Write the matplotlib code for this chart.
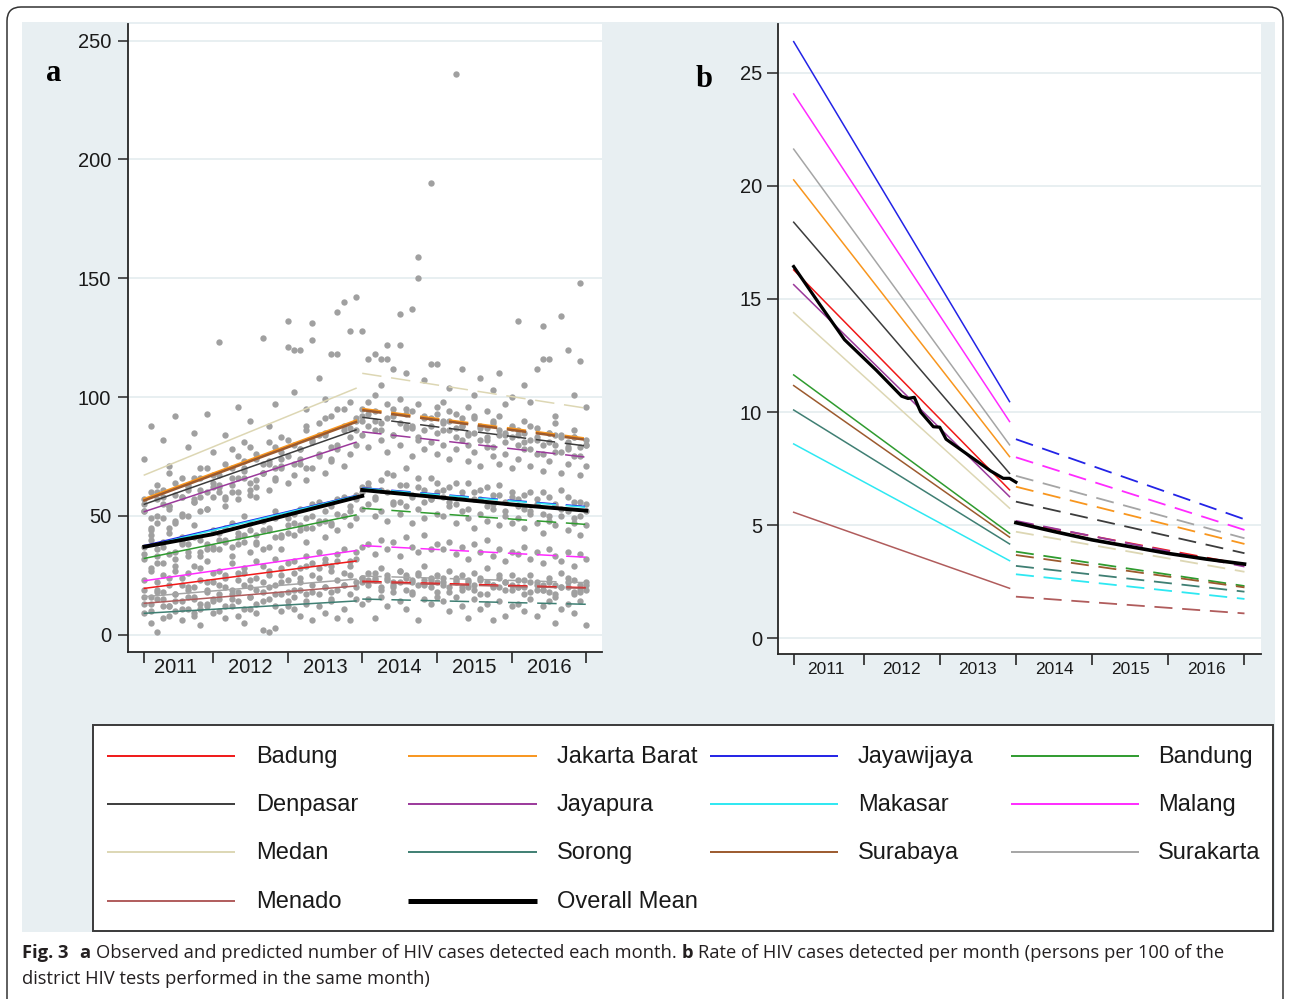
import numpy as np
import matplotlib
matplotlib.use('Agg')
import matplotlib.pyplot as plt
from matplotlib.patches import Rectangle, FancyBboxPatch

plt.rcParams['font.family'] = ['Liberation Sans', 'DejaVu Sans']
plt.rcParams['lines.scale_dashes'] = False

W, H = 1290, 999
BG = '#e8eff2'
GRID = '#e4ecef'
AXC = '#262626'

districts = ['Badung', 'Jakarta Barat', 'Jayawijaya', 'Bandung',
             'Denpasar', 'Jayapura', 'Makasar', 'Malang',
             'Medan', 'Sorong', 'Surabaya', 'Surakarta', 'Menado']
colors = ['#f01818', '#f8961e', '#2323e6', '#2f9b2f',
          '#3c3c3c', '#9b399b', '#2ee8f2', '#ff2bff',
          '#ddd7b4', '#3f7f73', '#9c5a2e', '#a5a5a5', '#b05c5c']
years = ['2011', '2012', '2013', '2014', '2015', '2016']

# month index 1..72 (Jan 2011 .. Dec 2016)
months = np.arange(1, 73)

# panel a: observed monthly HIV cases per district
obs_badung = """19 16 22 18 24 17 21 20 15 23 19 22
21 25 19 23 26 20 24 22 27 21 25 23
26 24 29 25 28 30 27 31 26 29 32 24
23 26 20 24 22 27 19 23 25 21 24 18
22 20 24 19 23 21 17 22 20 25 19 21
20 23 18 21 19 22 17 20 24 18 21 19"""
obs_jakarta_barat = """57 49 63 55 68 59 51 62 66 58 70 64
67 72 60 75 69 79 65 72 81 70 77 121
80 74 88 124 84 91 79 95 86 98 90 95
93 101 89 97 92 99 88 94 150 86 91 96
90 86 93 88 84 91 87 83 89 92 85 88
84 90 82 87 80 85 89 83 81 86 79 82"""
obs_jayawijaya = """37 42 33 39 45 35 41 38 46 40 36 44
43 39 47 41 50 44 38 48 45 52 42 49
47 53 45 50 56 48 54 51 58 52 57 60
62 58 65 60 67 56 63 59 66 61 57 64
58 62 55 60 64 57 61 54 59 63 56 60
57 53 60 55 51 58 54 61 52 56 50 55"""
obs_bandung = """32 28 36 30 34 27 38 33 29 35 31 37
36 40 33 38 42 35 39 44 37 41 36 43
42 46 39 45 48 41 47 44 50 46 49 53
55 50 52 48 56 51 54 47 53 49 57 51
50 54 47 52 49 45 51 48 53 46 50 47
49 45 51 47 43 48 46 50 44 47 42 46"""
obs_denpasar = """55 45 50 61 53 48 58 63 56 52 60 67
62 57 66 60 70 64 58 68 73 66 71 75
72 78 70 82 76 85 74 80 88 83 86 90
88 94 86 91 84 89 95 87 82 92 88 85
86 90 83 88 80 85 82 87 79 84 81 83
80 85 78 82 76 81 84 77 79 83 75 80"""
obs_jayapura = """52 44 57 49 54 47 58 50 56 61 53 58
60 54 63 57 66 59 62 68 61 65 70 64
67 72 65 70 75 68 73 78 71 76 80 84
79 86 82 77 84 80 87 75 83 78 81 76
80 74 78 82 73 77 71 79 75 72 76 70
74 78 71 76 69 73 77 68 72 75 67 71"""
obs_makasar = """34 40 30 37 43 32 39 35 41 33 38 36
40 45 37 43 39 47 42 36 44 49 41 46
51 44 49 55 47 52 46 57 50 54 59 62
64 57 61 68 55 63 70 58 62 56 66 60
61 56 64 58 53 60 57 62 55 59 52 58
54 59 52 57 60 50 55 53 58 49 56 52"""
obs_malang = """23 27 19 25 21 29 24 26 20 28 22 26
27 24 30 26 28 23 31 29 25 32 28 30
31 28 33 30 35 32 29 34 36 31 35 37
38 34 40 36 39 33 41 37 35 42 36 38
36 39 34 37 32 38 35 40 33 36 31 35
34 37 32 35 30 36 33 31 35 29 34 32"""
obs_medan = """74 88 60 82 71 92 66 79 85 70 93 77
123 84 78 96 81 90 74 125 88 97 83 132
102 120 95 131 108 99 118 136 140 128 142 128
116 118 105 122 112 135 110 137 159 107 190 114
98 104 236 112 96 101 108 94 103 110 97 100
132 105 98 112 130 116 92 134 120 101 148 96"""
obs_sorong = """9 5 1 7 12 10 6 11 8 4 13 9
10 7 12 8 5 11 9 2 1 3 10 12
11 8 13 6 12 9 14 7 11 6 15 13
15 7 16 12 18 14 11 17 6 15 13 16
14 10 16 12 7 15 11 13 6 14 8 12
13 10 15 8 12 14 5 11 13 9 14 4"""
obs_surabaya = """52 60 47 58 54 64 50 61 57 66 53 62
63 58 70 66 73 61 76 68 72 79 74 82
120 78 86 81 89 84 92 118 95 87 91 92
98 90 116 116 95 122 93 88 97 91 114 93
89 94 87 91 85 92 88 82 90 86 84 87
86 81 88 83 116 85 80 84 78 83 115 80"""
obs_surakarta = """16 13 18 15 12 17 14 19 16 11 18 15
17 20 15 18 21 16 19 14 20 17 22 18
19 22 17 21 24 20 18 23 21 25 22 24
26 23 28 25 21 27 24 22 26 29 23 25
24 27 22 25 20 26 23 28 21 24 22 25
23 20 25 22 19 24 21 26 20 23 18 22"""
obs_menado = """13 10 15 12 8 14 11 16 9 13 12 14
15 12 17 14 11 16 13 18 15 12 17 14
16 19 14 18 17 20 15 19 21 17 20 22
21 24 19 23 20 22 25 18 21 23 20 22
21 18 23 20 22 19 24 17 21 20 22 19
20 17 22 19 21 18 16 20 22 17 19 21"""

# panel a: predicted lines (value at start / end of each period), districts order
a_pre_start = [19.5, 57.1, 37.5, 32.1, 54.9, 51.8, 37.0, 22.7, 67.2, 9.0, 56.5, 16.0, 13.2]
a_pre_end = [31.0, 90.1, 58.6, 50.4, 86.2, 81.0, 58.4, 35.4, 103.7, 14.2, 89.5, 23.4, 20.5]
a_post_start = [22.5, 95.0, 61.8, 53.2, 91.5, 85.4, 61.6, 37.5, 110.0, 15.0, 94.5, 24.7, 22.0]
a_post_end = [19.8, 82.5, 53.9, 46.4, 79.4, 74.7, 53.6, 32.6, 95.3, 12.8, 82.0, 21.9, 19.5]
a_mean_pre_m = [1, 12, 24, 36]
a_mean_pre = [37.0, 42.3, 50.4, 58.4]
a_mean_post_m = [36, 48, 60, 72]
a_mean_post = [60.9, 57.9, 54.8, 52.2]

# panel b: rate per 100 tests
b_pre_start = [16.28, 20.26, 26.37, 11.64, 18.39, 15.63, 8.59, 24.06, 14.39, 10.09, 11.17, 21.62, 5.57]
b_pre_end = [6.56, 8.03, 10.46, 4.64, 7.29, 6.26, 3.43, 9.58, 5.75, 4.17, 4.47, 8.55, 2.21]
b_post_start = [5.15, 6.70, 8.80, 3.83, 6.04, 5.19, 2.83, 8.00, 4.71, 3.20, 3.68, 7.18, 1.84]
b_post_end = [3.25, 4.17, 5.26, 2.31, 3.76, 3.17, 1.74, 4.79, 2.94, 2.06, 2.25, 4.42, 1.10]
b_mean_pre_m = [1, 5, 9, 14, 18, 19, 20, 21, 23, 24, 25, 29, 32, 34, 35, 36]
b_mean_pre = [16.43, 14.8, 13.2, 11.85, 10.7, 10.6, 10.65, 10.0, 9.35, 9.33, 8.8, 8.0, 7.4, 7.07, 7.07, 6.9]
b_mean_post_m = [36, 42, 48, 54, 60, 66, 72]
b_mean_post = [5.11, 4.72, 4.35, 4.05, 3.75, 3.5, 3.28]

observed = [obs_badung, obs_jakarta_barat, obs_jayawijaya, obs_bandung, obs_denpasar,
            obs_jayapura, obs_makasar, obs_malang, obs_medan, obs_sorong,
            obs_surabaya, obs_surakarta, obs_menado]

PRE_END, POST_START, LAST = 35, 36, 72
DASH = (0, (13, 7))


def px_rect(x0, y0, x1, y1):
    return [x0 / W, 1 - y1 / H, (x1 - x0) / W, (y1 - y0) / H]


fig = plt.figure(figsize=(W / 100, H / 100), dpi=100)

# overlay in pixel coordinates for background, legend and caption
ov = fig.add_axes([0, 0, 1, 1], zorder=0)
ov.set_xlim(0, W)
ov.set_ylim(H, 0)
ov.axis('off')
ov.add_patch(FancyBboxPatch((7, 7), 1276, 1040, boxstyle='round,pad=0,rounding_size=14',
                            facecolor='white', edgecolor='#333333', lw=1.1))
ov.add_patch(Rectangle((22, 22), 1253, 910, facecolor=BG, edgecolor='none'))


def style_axis(ax, xfs, xpad, ylen, ypad):
    ax.set_facecolor('white')
    for s in ['top', 'right']:
        ax.spines[s].set_visible(False)
    for s in ['left', 'bottom']:
        ax.spines[s].set_color(AXC)
        ax.spines[s].set_linewidth(1.3)
    ax.set_xticks([1, 12, 24, 36, 48, 60, 72])
    ax.set_xticklabels([])
    ax.set_xticks([6, 18, 30, 42, 54, 66], minor=True)
    ax.set_xticklabels(years, minor=True, fontsize=xfs)
    ax.tick_params(axis='x', which='major', length=8, width=1.2, color=AXC)
    ax.tick_params(axis='x', which='minor', length=0, pad=xpad, labelcolor='#1a1a1a')
    ax.tick_params(axis='y', length=ylen, width=1.1, color=AXC, pad=ypad,
                   labelsize=14.5, labelcolor='#1a1a1a')
    ax.yaxis.grid(True, color=GRID, lw=1.2)
    ax.set_axisbelow(True)


# ---- panel a ----
ax = fig.add_axes(px_rect(128, 24, 602, 652), zorder=1)
for vals in observed:
    y = np.array(vals.split(), dtype=float)
    assert len(y) == 72
    ax.scatter(months, y, s=21, color='#a0a0a0', linewidths=0, zorder=2)
for i, c in enumerate(colors):
    lw = 1.8 if districts[i] in ('Jakarta Barat', 'Surabaya') else 1.1
    ax.plot([1, PRE_END], [a_pre_start[i], a_pre_end[i]], color=c, lw=lw, zorder=3)
    ax.plot([POST_START, LAST], [a_post_start[i], a_post_end[i]], color=c, lw=lw,
            ls=(0, (14, 7)), zorder=3)
ax.plot(a_mean_pre_m, a_mean_pre, color='black', lw=2.8, zorder=4)
ax.plot(a_mean_post_m, a_mean_post, color='black', lw=2.8, zorder=4)
ax.set_xlim(-1.63, 74.52)
ax.set_ylim(-7.28, 257.0)
ax.set_yticks([0, 50, 100, 150, 200, 250])
style_axis(ax, 14.5, 4.5, 7, 5)

# ---- panel b ----
bx = fig.add_axes(px_rect(778, 24, 1261, 654), zorder=1)
for i, c in enumerate(colors):
    bx.plot([1, PRE_END], [b_pre_start[i], b_pre_end[i]], color=c, lw=1.1, zorder=3)
    bx.plot([POST_START, LAST], [b_post_start[i], b_post_end[i]], color=c, lw=1.3,
            ls=DASH, zorder=3)
bx.plot(b_mean_pre_m, b_mean_pre, color='black', lw=2.3, zorder=4)
bx.plot(b_mean_post_m, b_mean_post, color='black', lw=2.6, zorder=4)
bx.set_xlim(-1.47, 74.6)
bx.set_ylim(-0.694, 27.15)
bx.set_yticks([0, 5, 10, 15, 20, 25])
style_axis(bx, 12.5, 6, 8, 3.6)

# panel letters
ov.text(54, 81, 'a', family='Liberation Serif', fontweight='bold', fontsize=22,
        ha='center', va='baseline')
ov.text(704, 87, 'b', family='Liberation Serif', fontweight='bold', fontsize=22,
        ha='center', va='baseline')

# ---- legend ----
ov.add_patch(Rectangle((93, 725), 1180, 206, facecolor='white', edgecolor='#3a3a3a', lw=1.4))
leg_cols = [(107, 235, 256), (408, 537, 557), (710, 838, 858), (1011, 1139, 1158)]
leg_rows = [756, 804, 852, 901]
labels = districts + ['Overall Mean']
lcolors = colors + ['black']
for k, (lab, c) in enumerate(zip(labels, lcolors)):
    r, col = divmod(k, 4)
    x0, x1, xt = leg_cols[col]
    yy = leg_rows[r]
    ov.plot([x0, x1], [yy, yy], color=c, lw=3.6 if lab == 'Overall Mean' else 1.4,
            solid_capstyle='butt')
    ov.text(xt, yy + 1, lab, fontsize=17, va='center', ha='left', color='#1a1a1a')

# ---- caption ----
renderer = fig.canvas.get_renderer()
CAP = dict(family=['Open Sans', 'DejaVu Sans'], fontsize=13.2, color='#231f20',
           va='center', ha='left')


def caption_line(x, y, pieces):
    for s, w, gap in pieces:
        t = ov.text(x, y, s, fontweight=w, **CAP)
        x = t.get_window_extent(renderer).x1 + gap


caption_line(22, 953, [('Fig. 3', 'bold', 11), ('a', 'bold', 5),
                       ('Observed and predicted number of HIV cases detected each month.', 'normal', 5),
                       ('b', 'bold', 5),
                       ('Rate of HIV cases detected per month (persons per 100 of the', 'normal', 0)])
caption_line(22, 979, [('district HIV tests performed in the same month)', 'normal', 0)])

fig.savefig('out.png', dpi=100)
